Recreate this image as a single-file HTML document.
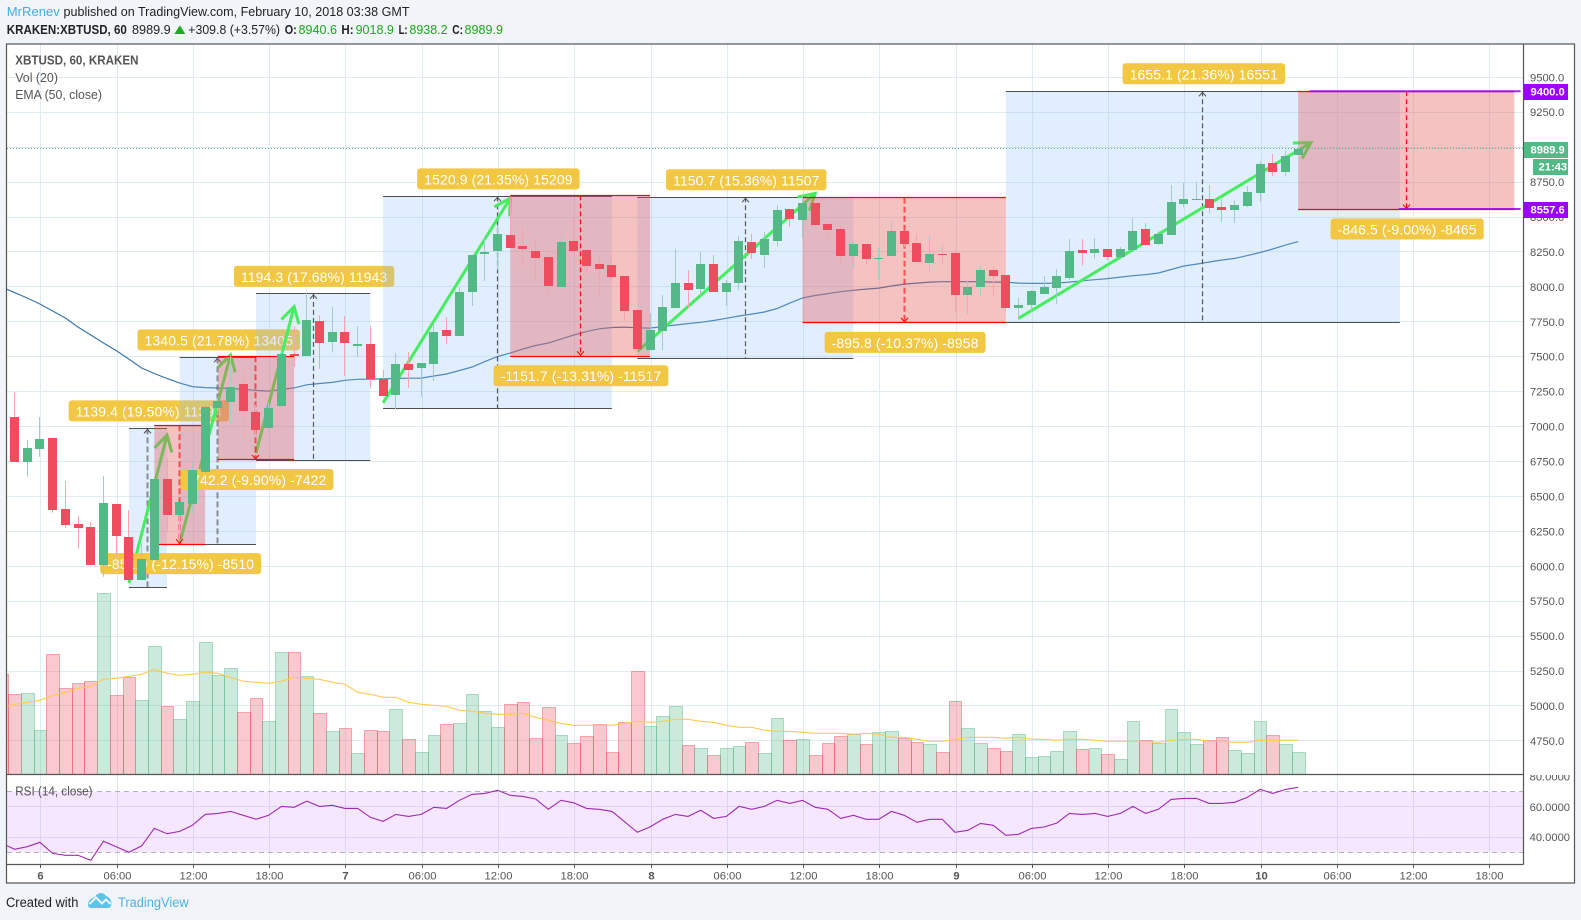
<!DOCTYPE html>
<html lang="en">
<head>
<meta charset="utf-8">
<title>XBTUSD, 60, KRAKEN</title>
<style>
html,body{margin:0;padding:0;background:#f1f4f8;}
svg{display:block;font-family:"Liberation Sans",Arial,sans-serif;}
text{dominant-baseline:central;}
</style>
</head>
<body>
<svg id="chart" xmlns="http://www.w3.org/2000/svg" width="1581" height="920" viewBox="0 0 1581 920">
  <defs>
    <clipPath id="paneClip"><rect x="7" y="44" width="1516.5" height="730.5"/></clipPath>
    <clipPath id="rsiClip"><rect x="7" y="775" width="1516.5" height="89"/></clipPath>
    <clipPath id="rsiAxisClip"><rect x="1524" y="775" width="50" height="89"/></clipPath>
  </defs>
  <rect x="0" y="0" width="1581" height="920" fill="#f1f4f8"/>

  <text x="6.8" y="11.7" font-size="13" fill="#3fb0e6" textLength="53" lengthAdjust="spacingAndGlyphs">MrRenev</text>
  <text x="63.5" y="11.7" font-size="13" fill="#222" textLength="346" lengthAdjust="spacingAndGlyphs">published on TradingView.com, February 10, 2018 03:38 GMT</text>

  <text x="6.8" y="29.3" font-size="13" font-weight="bold" fill="#222" textLength="120" lengthAdjust="spacingAndGlyphs">KRAKEN:XBTUSD, 60</text>
  <text x="132" y="29.3" font-size="13" fill="#222" textLength="38.7" lengthAdjust="spacingAndGlyphs">8989.9</text>
  <polygon points="174.4,34 185.3,34 179.8,25.3" fill="#1eab1e"/>
  <text x="188.3" y="29.3" font-size="13" fill="#222" textLength="91.7" lengthAdjust="spacingAndGlyphs">+309.8 (+3.57%)</text>
  <text x="284.7" y="29.3" font-size="13" font-weight="bold" fill="#222" textLength="12" lengthAdjust="spacingAndGlyphs">O:</text>
  <text x="298.5" y="29.3" font-size="13" fill="#1fa71f" textLength="38.5" lengthAdjust="spacingAndGlyphs">8940.6</text>
  <text x="341.4" y="29.3" font-size="13" font-weight="bold" fill="#222" textLength="12.2" lengthAdjust="spacingAndGlyphs">H:</text>
  <text x="355.6" y="29.3" font-size="13" fill="#1fa71f" textLength="38.3" lengthAdjust="spacingAndGlyphs">9018.9</text>
  <text x="398.6" y="29.3" font-size="13" font-weight="bold" fill="#222" textLength="9" lengthAdjust="spacingAndGlyphs">L:</text>
  <text x="409.4" y="29.3" font-size="13" fill="#1fa71f" textLength="38.2" lengthAdjust="spacingAndGlyphs">8938.2</text>
  <text x="452.3" y="29.3" font-size="13" font-weight="bold" fill="#222" textLength="10.7" lengthAdjust="spacingAndGlyphs">C:</text>
  <text x="464.5" y="29.3" font-size="13" fill="#1fa71f" textLength="38.5" lengthAdjust="spacingAndGlyphs">8989.9</text>

  <rect x="6.5" y="44" width="1568" height="839" fill="#fff"/>

  <g id="gridLayer"></g>
  <g id="rsiBandLayer"></g>
  <g id="volumeLayer" clip-path="url(#paneClip)"></g>
  <g id="emaLayer" clip-path="url(#paneClip)"></g>
  <g id="drawingLayer" clip-path="url(#paneClip)"></g>
  <g id="candleLayer" clip-path="url(#paneClip)"></g>
  <g id="levelLayer"></g>
  <g id="rsiLayer" clip-path="url(#rsiClip)"></g>

  <text x="15.2" y="60.7" font-size="12.5" font-weight="bold" fill="#555" textLength="123.4" lengthAdjust="spacingAndGlyphs">XBTUSD, 60, KRAKEN</text>
  <text x="15.2" y="78" font-size="12.5" fill="#555" textLength="42.8" lengthAdjust="spacingAndGlyphs">Vol (20)</text>
  <text x="15.2" y="95" font-size="12.5" fill="#555" textLength="86.8" lengthAdjust="spacingAndGlyphs">EMA (50, close)</text>
  <text x="15.2" y="791.7" font-size="12.5" fill="#555" textLength="77.4" lengthAdjust="spacingAndGlyphs">RSI (14, close)</text>

  <g id="axisLayer"></g>

  <rect x="6.5" y="44" width="1568" height="839" fill="none" stroke="#555" stroke-width="1.2"/>
  <line x1="1523.5" y1="44" x2="1523.5" y2="864.5" stroke="#555" stroke-width="1.2"/>
  <line x1="7" y1="774.5" x2="1523.5" y2="774.5" stroke="#555" stroke-width="1.2"/>
  <line x1="7" y1="864.5" x2="1523.5" y2="864.5" stroke="#555" stroke-width="1.2"/>

  <g id="tagLayer"></g>

  <text x="6" y="902.3" font-size="13.5" fill="#222" textLength="72.4" lengthAdjust="spacingAndGlyphs">Created with</text>
  <g>
    <path d="M88 905C88 900 92 898 95 897C97 892 104 892 106 896C110 897 112.5 902 111 906Q110 908 107 908L92 908Q88 908 88 905Z" fill="#5bc4ea"/>
    <polyline points="89.5,904 96,897.5 102,903.5 106,899.5 110.5,904" fill="none" stroke="#f1f4f8" stroke-width="2"/>
  </g>
  <text x="118" y="902.3" font-size="13.5" fill="#4ab4e8" textLength="70.6" lengthAdjust="spacingAndGlyphs">TradingView</text>
</svg>

<script>
// ---- Chart data (first entry of each series is the bar clipped at the left edge) ----
const opens  = [7300,7068,6748,6839,6918,6410,6302,6281,6009,6445,6209,5901,6045,6624,6367,6445,6674,7135,7175,7304,7104,6989,7147,7519,7505,7755,7605,7677,7576,7591,7338,7226,7447,7419,7447,7691,7648,7963,8235,8256,8371,8292,8256,8213,7999,8328,8263,8163,8156,8077,7834,7548,7684,7848,8027,7984,8163,7963,8027,8321,8228,8328,8557,8478,8600,8450,8414,8221,8306,8199,8221,8399,8314,8170,8235,8242,7941,7999,8120,8085,7848,7870,7948,7991,8063,8263,8242,8271,8213,8263,8414,8306,8371,8593,8621,8629,8571,8550,8578,8672,8886,8822,8940.6];
const highs  = [7350,7245,6903,7068,6918,6610,6359,6316,6646,6445,6402,6164,6624,6777,6460,6748,7140,7204,7505,7405,7154,7168,7598,7719,7956,7798,7855,7791,7719,7719,7405,7526,7533,7455,7741,7784,7999,8228,8359,8442,8645,8430,8349,8271,8371,8493,8263,8213,8242,8077,7834,7813,7941,8271,8120,8249,8228,8049,8364,8378,8392,8586,8557,8657,8600,8450,8442,8323,8306,8278,8471,8399,8378,8364,8299,8256,8049,8149,8142,8085,7920,7977,8077,8127,8342,8342,8349,8271,8285,8493,8457,8399,8729,8743,8750,8729,8629,8621,8722,8901,8951,8972,9018.9];
const lows   = [7050,6748,6641,6784,6383,6276,6125,6009,5925,6068,5901,5901,6045,6247,6193,6379,6674,7082,7025,6932,6939,6961,7147,7428,7505,7414,7533,7362,7498,7276,7218,7125,7276,7213,7328,7591,7648,7863,8042,8120,8278,8144,8058,7941,7999,8256,8072,7929,8027,7755,7533,7548,7548,7848,7848,7941,7963,7863,7977,8199,8135,8292,8430,8349,8442,8342,8173,8137,8156,8056,8221,8285,8178,8113,8163,7820,7805,7941,7934,7827,7762,7822,7948,7877,8049,8151,8199,8192,8213,8263,8299,8299,8371,8571,8621,8528,8464,8457,8571,8607,8793,8793,8938.2];
const closes = [7100,6748,6846,6911,6402,6295,6274,6009,6453,6216,5901,6052,6624,6367,6460,6689,7140,7183,7283,7111,6975,7133,7519,7505,7762,7598,7677,7598,7591,7338,7218,7447,7405,7455,7677,7648,7963,8228,8249,8378,8278,8271,8206,8006,8321,8256,8149,8127,8070,7827,7555,7691,7855,8027,7977,8163,7963,8027,8328,8242,8342,8550,8485,8600,8442,8407,8221,8306,8199,8206,8399,8306,8178,8235,8228,7941,7999,8120,8077,7848,7870,7970,7999,8077,8256,8242,8271,8213,8271,8399,8299,8378,8607,8629,8629,8564,8550,8586,8679,8879,8822,8936,8989.9];
const volumes = [997,797,807,437,1197,857,907,927,1807,787,967,737,1277,677,547,727,1317,987,1057,617,757,527,1217,1217,977,607,427,457,207,437,427,647,347,217,387,497,507,797,627,467,697,717,360,670,390,310,380,500,220,520,1030,480,580,680,290,260,190,260,280,320,210,560,340,350,190,310,380,400,300,420,430,360,320,300,220,730,460,310,260,230,400,170,180,230,430,250,260,200,150,530,340,310,650,420,300,340,370,240,210,530,390,300,220];
const volumeMA = [665,700,720,740,790,820,860,880,950,960,980,1000,1050,1010,990,1000,1020,1010,970,930,920,910,930,970,960,950,920,900,820,800,770,770,720,700,690,680,640,630,610,600,600,610,570,540,510,490,490,490,490,510,530,520,530,550,550,530,520,490,470,470,440,430,430,420,410,410,410,400,410,400,370,370,350,330,330,350,370,370,370,360,370,350,350,340,350,350,340,330,330,330,330,320,340,350,350,330,330,320,320,340,340,340,340];
const ema50 = [7999,7959,7920,7877,7827,7777,7712,7655,7598,7544,7483,7419,7380,7344,7311,7286,7279,7276,7272,7266,7259,7254,7265,7277,7299,7308,7316,7331,7338,7340,7342,7344,7346,7347,7362,7376,7401,7426,7465,7501,7526,7555,7580,7598,7626,7655,7680,7700,7709,7712,7707,7705,7716,7727,7737,7746,7759,7775,7791,7805,7820,7845,7884,7920,7938,7952,7965,7975,7984,7991,8006,8020,8027,8034,8037,8037,8037,8037,8034,8034,8027,8025,8025,8027,8034,8043,8051,8059,8070,8080,8088,8099,8124,8149,8163,8178,8192,8204,8224,8246,8271,8299,8324];
const rsi14 = [36,32,33.7,36.6,29.3,28,28,24.7,37.3,33.7,30,34.2,45.8,42.3,43.8,47.8,55,55.7,57,54.4,51.8,54.4,60.3,59.7,63.8,60.3,61,59,59,53.1,50.4,55,53.7,55,59.7,59,64.3,68.2,68.9,70.9,67.6,66.9,65.2,58.4,64.3,62.7,59,58.4,57,50.2,43.2,46.7,51.8,55,53.7,57.7,52.4,53.7,60.3,58.4,60.3,64.3,62.3,64.3,59.7,58.4,52.4,54.4,51.8,51.8,57,54.4,49.8,51.8,51.8,43.2,44.5,49.1,47.8,41.2,41.9,45.8,46.7,49.3,55.7,55,55.7,53.7,55.7,60.3,55.7,58.4,64.9,65.6,65.6,62.3,62.3,63,66.3,71.5,68.9,71.5,72.9];

const priceTicks = [9500,9250,9000,8750,8500,8250,8000,7750,7500,7250,7000,6750,6500,6250,6000,5750,5500,5250,5000,4750];
const rsiTicks = [80,60,40];
const rsiGridTicks = [60,40];
const timeBars = [2,8,14,20,26,32,38,44,50,56,62,68,74,80,86,92,98,104,110,116];
const timeLabels = ["6","06:00","12:00","18:00","7","06:00","12:00","18:00","8","06:00","12:00","18:00","9","06:00","12:00","18:00","10","06:00","12:00","18:00"];

// Position drawings, in stacking order
const positionKinds  = ["long","long","short","long","short","long","long","short","long","short","short"];
const positionStart  = [9,13,11,19,16,29,49,39,78,62,101];
const positionEnd    = [12,19,15,28,22,47,66,50,109,78,118];
const positionTop    = [6987,7495.4,7009,7950,7503,8648,8641,8655,9400,8638,9400];
const positionBottom = [5847.6,6154.9,6158,6755.7,6760.8,7127.1,7490.3,7503.3,7744.9,7742.2,8553.5];
const positionLabels = ["1139.4 (19.50%) 11394","1340.5 (21.78%) 13405","-851.0 (-12.15%) -8510","1194.3 (17.68%) 11943","-742.2 (-9.90%) -7422","1520.9 (21.35%) 15209","1150.7 (15.36%) 11507","-1151.7 (-13.31%) -11517","1655.1 (21.36%) 16551","-895.8 (-10.37%) -8958","-846.5 (-9.00%) -8465"];
const positionDash   = [2,2,2,1.2,2,1.2,1.2,1.2,1.2,2,1.2];
const arrowForPosition = [0,1,-1,2,-1,3,4,-1,5,-1,-1];
const arrowStartBar   = [9,13,19,29,49,79];
const arrowStartPrice = [5878,6166,6810,7170,7536,7775];
const arrowEndBar     = [12,17,22,39,63,102];
const arrowEndPrice   = [6939,7512,7858,8634,8669,9032];

const levelPrices = [9400,8557.6];
const levelStartBars = [101.9,108.9];
const levelEndBar = 118.5;
const lastClose = 8989.9;
const countdownText = "21:43";

// ---- Axis functions ----
const firstBar = -1;
const xBar = b => 14.5 + 12.71 * b;
const priceY = p => 77.3 + (9500 - p) * 0.1397;
const volY = v => 774.3 - v * 0.1;
const rsiY = r => 791.7 + (70 - r) * 1.515;
const px = v => Math.floor(v) + 0.5;

const NS = "http://www.w3.org/2000/svg";
function svgEl(parent, tag, attrs) {
  const el = document.createElementNS(NS, tag);
  for (const k in attrs) el.setAttribute(k, attrs[k]);
  parent.appendChild(el);
  return el;
}
const layer = id => document.getElementById(id);

// ---- Grid ----
const paneLeft = 7, paneRight = 1523;
priceTicks.forEach(function (p) {
  const el = svgEl(layer("gridLayer"), "line", {x1: paneLeft, x2: paneRight, y1: px(priceY(p)), y2: px(priceY(p)), stroke: "#e1ebf2", "stroke-width": 1});
  
  
});
rsiGridTicks.forEach(function (r) {
  const el = svgEl(layer("gridLayer"), "line", {x1: paneLeft, x2: paneRight, y1: px(rsiY(r)), y2: px(rsiY(r)), stroke: "#e1ebf2", "stroke-width": 1});
  
  
});
timeBars.forEach(function (b) {
  const x = px(xBar(b) + 1);
  const el = svgEl(layer("gridLayer"), "line", {x1: x, x2: x, y1: 44, y2: 864, stroke: "#e1ebf2", "stroke-width": 1});
  
  
});

// ---- RSI band ----
(function () {
  const band = svgEl(layer("rsiBandLayer"), "rect", {x: paneLeft, width: paneRight - paneLeft, y: rsiY(70), height: rsiY(30) - rsiY(70), fill: "rgba(153,21,255,0.1)"});
  
  
  [70, 30].forEach(function (r) {
    const d = svgEl(layer("rsiBandLayer"), "line", {x1: paneLeft, x2: paneRight, y1: px(rsiY(r)), y2: px(rsiY(r)), stroke: "#b9aec2", "stroke-width": 1, "stroke-dasharray": "5,4"});
    
    
  });
})();

// ---- Volume bars and MA ----
volumes.forEach(function (v, k) {
  const b = k + firstBar;
  const up = closes[k] >= opens[k];
  const x1 = Math.round(xBar(b) - 6.35) + 0.5, x2 = Math.round(xBar(b) + 6.35) + 0.5;
  const top = px(volY(v));
  const el = svgEl(layer("volumeLayer"), "rect", {x: x1, y: top, width: x2 - x1, height: 774.5 - top,
    fill: up ? "rgba(83,185,135,0.3)" : "rgba(238,77,95,0.3)",
    stroke: up ? "rgba(83,185,135,0.45)" : "rgba(238,77,95,0.45)", "stroke-width": 1});
  
  
});
(function () {
  const pts = volumeMA.map((v, k) => xBar(k + firstBar).toFixed(1) + "," + volY(v).toFixed(1)).join(" ");
  const el = svgEl(layer("volumeLayer"), "polyline", {points: pts, fill: "none", stroke: "#ffca52", "stroke-width": 1.1});
  
  
})();

// ---- EMA ----
(function () {
  const pts = ema50.map((v, k) => xBar(k + firstBar).toFixed(1) + "," + priceY(v).toFixed(1)).join(" ");
  const el = svgEl(layer("emaLayer"), "polyline", {points: pts, fill: "none", stroke: "#3a76a8", "stroke-width": 1.2});
  
  
})();

// ---- Position drawings ----
function drawArrow(a) {
  const g = layer("drawingLayer");
  const x1 = xBar(arrowStartBar[a]), y1 = priceY(arrowStartPrice[a]);
  const x2 = xBar(arrowEndBar[a]), y2 = priceY(arrowEndPrice[a]);
  const ang = Math.atan2(y1 - y2, x1 - x2);
  const arm = 18, spread = Math.PI / 6;
  const d = "M" + x1 + " " + y1 + "L" + x2 + " " + y2 +
    "M" + (x2 + arm * Math.cos(ang - spread)) + " " + (y2 + arm * Math.sin(ang - spread)) +
    "L" + x2 + " " + y2 +
    "L" + (x2 + arm * Math.cos(ang + spread)) + " " + (y2 + arm * Math.sin(ang + spread));
  const el = svgEl(g, "path", {d: d, fill: "none", stroke: "#44ee5e", "stroke-width": 3});
  
  
}
function drawPosition(i) {
  const g = layer("drawingLayer");
  const isLong = positionKinds[i] === "long";
  const x1 = xBar(positionStart[i]), x2 = xBar(positionEnd[i]);
  const yT = priceY(positionTop[i]), yB = priceY(positionBottom[i]);
  const box = svgEl(g, "rect", {x: x1, y: yT, width: x2 - x1, height: yB - yT,
    fill: isLong ? "rgba(144,191,249,0.27)" : "rgba(228,89,89,0.37)"});
  
  
  const lineColor = isLong ? "#4f4f4f" : "#ff0000";
  [yT, yB].forEach(function (y) {
    const l = svgEl(g, "line", {x1: x1, x2: x2, y1: px(y), y2: px(y), stroke: lineColor, "stroke-width": isLong ? 1 : 1.2});
    
    
  });
  const mid = px((x1 + x2) / 2);
  const dashColor = isLong ? "#4f4f4f" : "#ff0000";
  const w = positionDash[i];
  const dash = svgEl(g, "line", {x1: mid, x2: mid, y1: yT, y2: yB, stroke: dashColor, "stroke-width": w, "stroke-opacity": w > 1.5 ? 0.6 : 0.95, "stroke-dasharray": w > 1.5 ? "6,3" : "5,3"});
  
  
  const tipY = isLong ? yT : yB;
  const dir = isLong ? 1 : -1;
  const head = svgEl(g, "path", {d: "M" + (mid - 3.5) + " " + (tipY + dir * 5) + "L" + mid + " " + (tipY + dir) + "L" + (mid + 3.5) + " " + (tipY + dir * 5), fill: "none", stroke: dashColor, "stroke-width": 1});
  
  
  const boxH = 21;
  const labelTop = isLong ? yT - 7 - boxH : yB + 9;
  const centerX = (x1 + x2) / 2 + 0.9;
  const rectEl = svgEl(g, "rect", {y: labelTop, height: boxH, rx: 3, ry: 3, fill: "#f1c744"});
  
  
  const t = svgEl(g, "text", {x: centerX, y: labelTop + boxH / 2 + 0.5, "text-anchor": "middle", "font-size": 14, "letter-spacing": "0.1", fill: "#fff"});
  
  
  t.textContent = positionLabels[i];
  const tw = t.getComputedTextLength();
  rectEl.setAttribute("x", centerX - tw / 2 - 7);
  rectEl.setAttribute("width", tw + 14);
}
positionKinds.forEach(function (_, i) {
  drawPosition(i);
  if (arrowForPosition[i] >= 0) drawArrow(arrowForPosition[i]);
});

// ---- Candles ----
opens.forEach(function (o, k) {
  const b = k + firstBar;
  const c = closes[k], up = c >= o;
  const xc = xBar(b);
  const wx = px(xc);
  const wick = svgEl(layer("candleLayer"), "line", {x1: wx, x2: wx, y1: priceY(highs[k]), y2: priceY(lows[k]), stroke: up ? "#a3cbc9" : "#f6a5ae", "stroke-width": 1});
  
  
  const yTop = Math.round(priceY(Math.max(o, c))), yBot = Math.round(priceY(Math.min(o, c)));
  const body = svgEl(layer("candleLayer"), "rect", {x: Math.round(xc - 4.5), y: yTop, width: 9, height: Math.max(1, yBot - yTop), fill: up ? "#53b987" : "#ee4d5f"});
  
  
});

// ---- RSI line ----
(function () {
  const pts = rsi14.map((v, k) => xBar(k + firstBar).toFixed(1) + "," + rsiY(v).toFixed(1)).join(" ");
  const el = svgEl(layer("rsiLayer"), "polyline", {points: pts, fill: "none", stroke: "#a02ab0", "stroke-width": 1.1});
  
  
})();

// ---- Last price and levels ----
(function () {
  const y = px(priceY(lastClose));
  const el = svgEl(layer("levelLayer"), "line", {x1: paneLeft, x2: 1523, y1: y, y2: y, stroke: "#53b987", "stroke-width": 1, "stroke-dasharray": "1,2"});
  
  
  levelPrices.forEach(function (p, i) {
    const ly = priceY(p);
    const l = svgEl(layer("levelLayer"), "line", {x1: xBar(levelStartBars[i]), x2: xBar(levelEndBar), y1: ly, y2: ly, stroke: "#9c00ff", "stroke-width": 2, "stroke-opacity": 0.85});
    
    
  });
})();

// ---- Axis labels ----
priceTicks.forEach(function (p) {
  const t = svgEl(layer("axisLayer"), "text", {x: 1530, y: priceY(p) + 1, "font-size": 11.2, fill: "#555"});
  
  
  t.textContent = p.toFixed(1);
});
rsiTicks.forEach(function (r) {
  const t = svgEl(layer("axisLayer"), "text", {x: 1529.6, y: rsiY(r) + 1, "font-size": 11.2, fill: "#555", "clip-path": "url(#rsiAxisClip)"});
  
  
  t.textContent = r.toFixed(4);
});
timeBars.forEach(function (b, i) {
  const x = px(xBar(b) + 1);
  const tick = svgEl(layer("axisLayer"), "line", {x1: x, x2: x, y1: 864, y2: 868, stroke: "#555", "stroke-width": 1});
  
  
  const isDay = timeLabels[i].length < 3;
  const t = svgEl(layer("axisLayer"), "text", {x: x, y: 876.3, "text-anchor": "middle", "font-size": 11.2, "font-weight": isDay ? "bold" : "normal", fill: "#555"});
  
  
  t.textContent = timeLabels[i];
});

// ---- Price tags ----
function drawTag(y, text, color, x, name) {
  const top = Math.round(y) - 7;
  const r = svgEl(layer("tagLayer"), "rect", {x: x, y: top, width: 1568 - x, height: 16, fill: color});
  
  
  const t = svgEl(layer("tagLayer"), "text", {x: 1566 - (text.length > 5 ? 35.5 : 27.5), y: top + 8.5, "font-size": 11.2, "font-weight": "bold", fill: "#fff"});
  
  
  t.textContent = text;
}
levelPrices.forEach(function (p) {
  drawTag(priceY(p), p.toFixed(1), "#9c00ff", 1524, "level-price-tag");
});
drawTag(priceY(lastClose), lastClose.toFixed(1), "#53b987", 1524, "last-price-tag");
drawTag(priceY(lastClose) + 17, countdownText, "#53b987", 1533, "countdown-tag");
</script>
</body>
</html>
